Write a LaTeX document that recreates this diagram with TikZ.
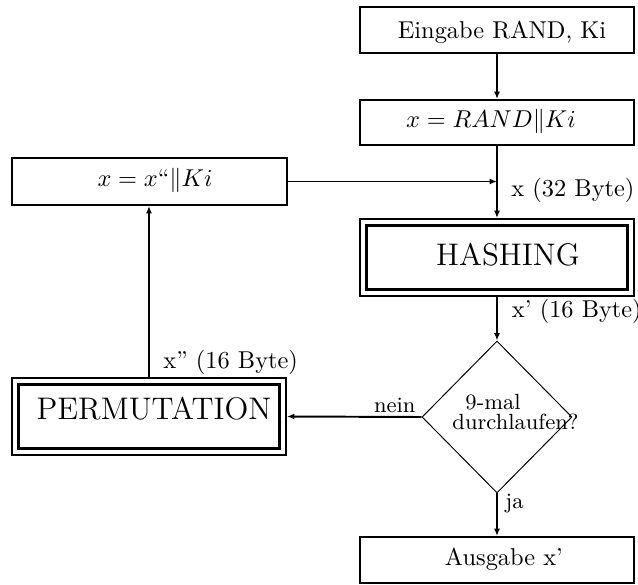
\documentclass[tikz,border=0pt]{standalone}
\usetikzlibrary{arrows.meta,shapes.geometric,calc}
\begin{document}
\begin{tikzpicture}[x=0.41pt,y=-0.41pt,
  box/.style={draw,line width=0.8pt,minimum width=274*0.41pt,minimum height=46*0.41pt,inner sep=0pt},
  dbox/.style={draw,line width=0.8pt,minimum width=274*0.41pt,minimum height=77*0.41pt,inner sep=0pt},
  inner/.style={line width=1.2pt},
  txt/.style={anchor=base,inner sep=0pt},
  big/.style={txt,font=\fontsize{12.8}{15}\selectfont},
  lbl/.style={anchor=base west,inner sep=0pt},
  small/.style={inner sep=0pt,font=\fontsize{9}{10}\selectfont},
  flow/.style={line width=0.8pt,-{Latex[length=3pt,width=2.4pt]}},
  decision/.style={draw,shape=diamond,line width=0.4pt,minimum width=150*0.41pt,minimum height=152*0.41pt,inner sep=0pt}]
\useasboundingbox (0,0) rectangle (638,585);

% input and concatenation
\node[box] (eing) at (497,30) {};
\node[txt] (teing) at (502,38.5) {Eingabe RAND, Ki};
\node[box,minimum height=45*0.41pt] (rand) at (497,122.5) {};
\node[txt] (trand) at (491,127) {$x = RAND\|Ki$};

% feedback concatenation
\node[box,minimum width=275*0.41pt,minimum height=47*0.41pt] (xx) at (149.5,181.5) {};
\node[txt] (txx) at (155,186.5) {$x = x$“$\|Ki$};

% hashing block
\node[dbox] (hash) at (497,257.5) {};
\draw[inner] ($(hash.north west)+(7.5,7.5)$) rectangle ($(hash.south east)+(-7.5,-7.5)$);
\node[big] (thash) at (508,265.3) {HASHING};

% loop test
\node[decision] (dec) at (497,417) {};
\node[small,anchor=base west] (t9) at (465,409) {9-mal};
\node[small,anchor=base west] (tdurch) at (452,429.5) {durchlaufen?};

% output
\node[box] (ausg) at (497,560) {};
\node[txt] (tausg) at (504,565) {Ausgabe x'};

% permutation block
\node[dbox] (perm) at (149,416.5) {};
\draw[inner] ($(perm.north west)+(7.5,7.5)$) rectangle ($(perm.south east)+(-7.5,-7.5)$);
\node[big] (tperm) at (154,419) {PERMUTATION};

% connectors
\coordinate (join) at (rand.south |- xx.east);
\draw[flow] (eing.south) -- (rand.north);
\draw[flow] (rand.south) -- (hash.north);
\draw[flow] (xx.east) -- (join);
\draw[flow] (hash.south) -- (dec.north);
\draw[flow] (dec.south) -- (ausg.north);
\draw[flow] (dec.west) -- (perm.east);
\draw[flow] (perm.north) -- (perm.north |- xx.south);

% connector labels
\node[lbl] (l32) at (511,196) {x (32 Byte)};
\node[lbl] (l16a) at (511.5,317) {x' (16 Byte)};
\node[lbl] (l16b) at (163,368) {x'' (16 Byte)};
\node[small,anchor=base east] (lnein) at (416,412) {nein};
\node[small,anchor=base west] (lja) at (505,508) {ja};
\end{tikzpicture}
\end{document}
